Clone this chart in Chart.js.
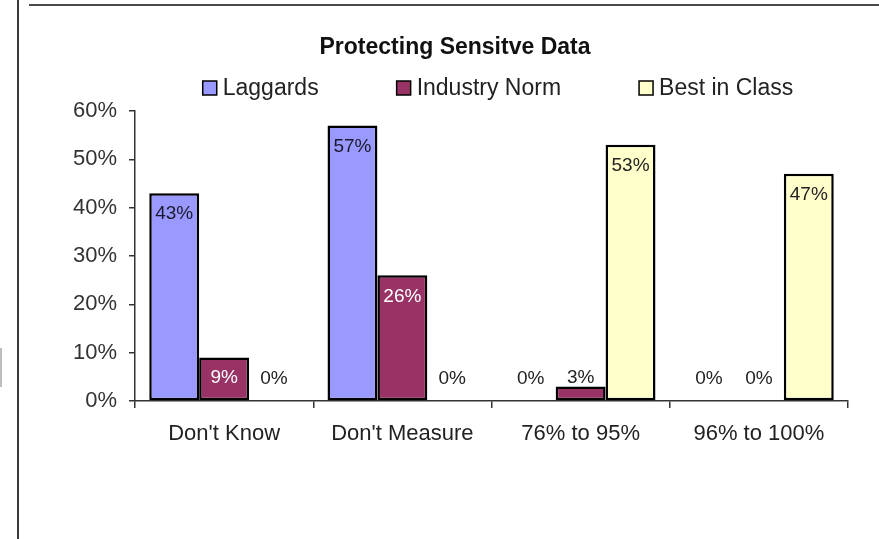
<!DOCTYPE html>
<html>
<head>
<meta charset="utf-8">
<script src="https://cdn.jsdelivr.net/npm/chart.js@4/dist/chart.umd.min.js"></script>
<style>
  html, body { margin: 0; padding: 0; background: #fff; }
  #wrap { position: relative; width: 879px; height: 539px; overflow: hidden; }
  #c { position: absolute; left: 0; top: 0; }
  .ln { position: absolute; }
</style>
</head>
<body>
<div id="wrap">
  <canvas id="c" width="879" height="539"></canvas>
  <div class="ln" style="left:17px;top:0;width:2px;height:539px;background:#3a3a3a;"></div>
  <div class="ln" style="left:29px;top:4px;width:850px;height:2px;background:#4a4a4a;"></div>
  <div class="ln" style="left:0;top:348px;width:2px;height:39px;background:#bdbdbd;"></div>
</div>
<script>
const chartTitle = 'Protecting Sensitve Data';
const categories = ["Don't Know", "Don't Measure", "76% to 95%", "96% to 100%"];
const seriesNames = ['Laggards', 'Industry Norm', 'Best in Class'];
const laggards = [43, 57, 0, 0];
const industryNorm = [9, 26, 3, 0];
const bestInClass = [0, 0, 53, 47];
const yTicks = [0, 10, 20, 30, 40, 50, 60];

const FONT = '"Liberation Sans", Arial, sans-serif';
const fills = ['#9999FF', '#993366', '#FFFFCC'];
const insideText = ['#1a1a2e', '#ffffff', '#222222'];

const headerPlugin = {
  id: 'header',
  afterDraw(chart) {
    const ctx = chart.ctx;
    ctx.save();
    ctx.fillStyle = '#111';
    ctx.font = 'bold 23px ' + FONT;
    ctx.textAlign = 'center';
    ctx.textBaseline = 'middle';
    ctx.fillText(chartTitle, 455, 48);
    // legend
    ctx.font = '23px ' + FONT;
    const box = 14, gap = 6, pad = 78;
    const ds = chart.data.datasets;
    const widths = ds.map(d => box + gap + ctx.measureText(d.label).width);
    const total = widths.reduce((a, b) => a + b, 0) + pad * (ds.length - 1);
    let x = 498 - total / 2;
    const y = 88;
    ds.forEach((d, i) => {
      ctx.fillStyle = d.backgroundColor;
      ctx.fillRect(x, y - box / 2, box, box);
      ctx.lineWidth = 1.5;
      ctx.strokeStyle = '#000';
      ctx.strokeRect(x, y - box / 2, box, box);
      ctx.fillStyle = '#222';
      ctx.textAlign = 'left';
      ctx.fillText(d.label, x + box + gap, y + 1);
      x += widths[i] + pad;
    });
    ctx.restore();
  }
};

const valueLabels = {
  id: 'valueLabels',
  afterDatasetsDraw(chart) {
    const ctx = chart.ctx;
    ctx.save();
    ctx.font = '19px ' + FONT;
    ctx.textAlign = 'center';
    ctx.textBaseline = 'middle';
    chart.data.datasets.forEach((d, i) => {
      const meta = chart.getDatasetMeta(i);
      meta.data.forEach((el, j) => {
        const base = el.base;
        const top = el.y;
        const inside = (base - top) >= 40;
        const y = Math.min(top + 21, base - 22);
        ctx.fillStyle = inside ? insideText[i] : '#222';
        ctx.fillText(d.data[j] + '%', el.x, y);
      });
    });
    ctx.restore();
  }
};

const seriesData = [laggards, industryNorm, bestInClass];

new Chart(document.getElementById('c'), {
  type: 'bar',
  data: {
    labels: categories,
    datasets: seriesNames.map((n, i) => ({
      label: n,
      data: seriesData[i],
      backgroundColor: fills[i],
      borderColor: '#000',
      borderWidth: (c) => (c.raw === 0 ? 0 : 2.5),
      borderSkipped: false,
      categoryPercentage: 0.84,
      barPercentage: 1.0
    }))
  },
  options: {
    responsive: false,
    animation: false,
    devicePixelRatio: 1,
    layout: { padding: { top: 111, right: 31, left: 0, bottom: 0 } },
    plugins: {
      legend: { display: false },
      title: { display: false },
      tooltip: { enabled: false }
    },
    scales: {
      x: {
        grid: { offset: true, drawOnChartArea: false, drawTicks: true, tickLength: 7, color: '#333', lineWidth: 1.5 },
        border: { color: '#333', width: 1.5 },
        ticks: { font: { family: FONT, size: 22 }, color: '#222', padding: 13, maxRotation: 0 },
        afterFit(s) { s.height = 138; }
      },
      y: {
        min: 0,
        max: 60,
        afterBuildTicks(s) { s.ticks = yTicks.map(v => ({ value: v })); },
        grid: { drawOnChartArea: false, drawTicks: true, tickLength: 6, color: '#333', lineWidth: 1.5 },
        border: { color: '#333', width: 1.5 },
        ticks: { font: { family: FONT, size: 22 }, color: '#333', padding: 12, callback: v => v + '%' },
        afterFit(s) { s.width = 135; }
      }
    }
  },
  plugins: [headerPlugin, valueLabels]
});
</script>
</body>
</html>
